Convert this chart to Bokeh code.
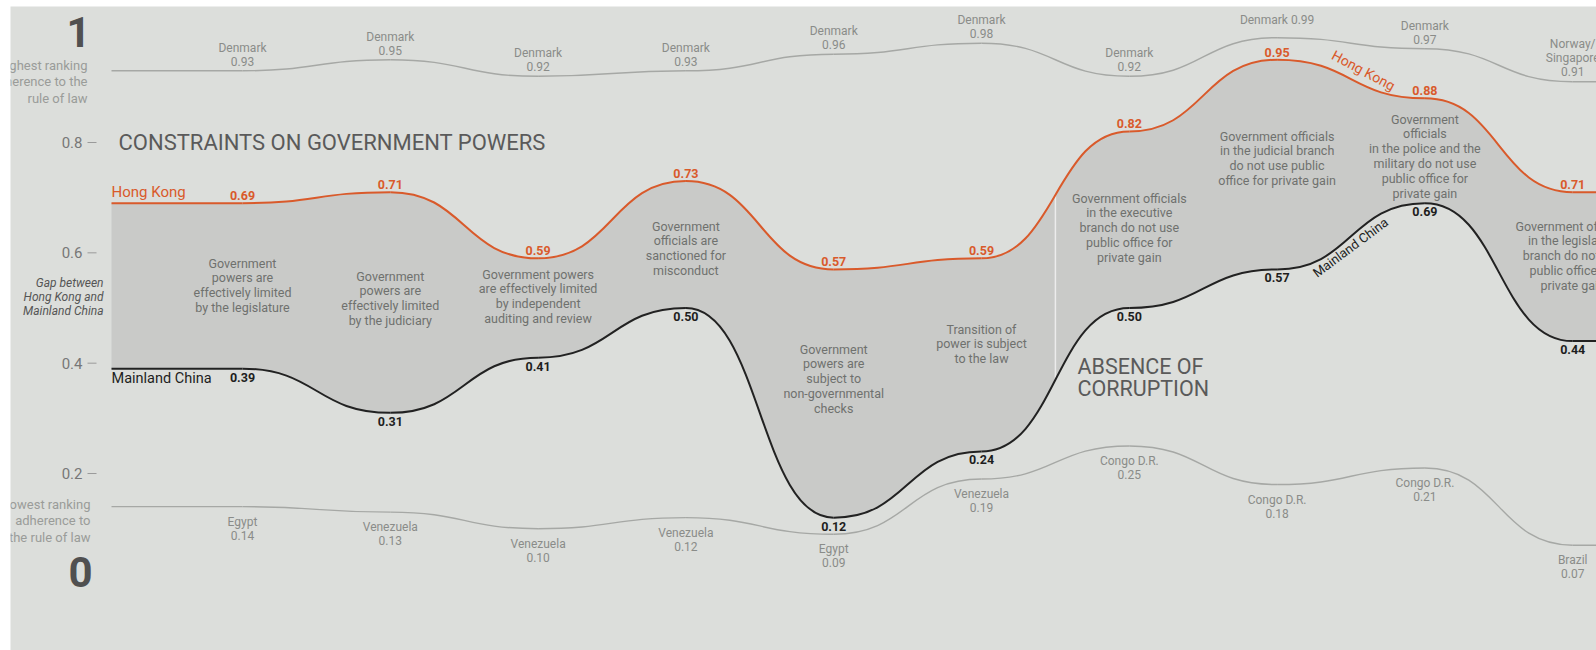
import numpy as np
from bokeh.plotting import figure
from bokeh.models import Range1d
from bokeh.core.properties import value
from bokeh.embed import file_html
from bokeh.resources import INLINE

# ---------------- data ----------------
descriptions = [
    "Government\npowers are\neffectively limited\nby the legislature",
    "Government\npowers are\neffectively limited\nby the judiciary",
    "Government powers\nare effectively limited\nby independent\nauditing and review",
    "Government\nofficials are\nsanctioned for\nmisconduct",
    "Government\npowers are\nsubject to\nnon-governmental\nchecks",
    "Transition of\npower is subject\nto the law",
    "Government officials\nin the executive\nbranch do not use\npublic office for\nprivate gain",
    "Government officials\nin the judicial branch\ndo not use public\noffice for private gain",
    "Government\nofficials\nin the police and the\nmilitary do not use\npublic office for\nprivate gain",
    "Government officials\nin the legislative\nbranch do not use\npublic office for\nprivate gain",
]
hong_kong = [0.69, 0.71, 0.59, 0.73, 0.57, 0.59, 0.82, 0.95, 0.88, 0.71]
mainland = [0.39, 0.31, 0.41, 0.50, 0.12, 0.24, 0.50, 0.57, 0.69, 0.44]
best_country = ["Denmark"] * 9 + ["Norway/\nSingapore"]
best_score = [0.93, 0.95, 0.92, 0.93, 0.96, 0.98, 0.92, 0.99, 0.97, 0.91]
worst_country = ["Egypt", "Venezuela", "Venezuela", "Venezuela", "Egypt",
                 "Venezuela", "Congo D.R.", "Congo D.R.", "Congo D.R.", "Brazil"]
worst_score = [0.14, 0.13, 0.10, 0.12, 0.09, 0.19, 0.25, 0.18, 0.21, 0.07]
section_titles = ["CONSTRAINTS ON GOVERNMENT POWERS", "ABSENCE OF\nCORRUPTION"]
section_start = [0, 6]
y_ticks = [0.2, 0.4, 0.6, 0.8]
scale_ends = [1, 0]
scale_end_notes = ["highest ranking\nadherence to the\nrule of law",
                   "lowest ranking\nadherence to\nthe rule of law"]

# ---------------- layout helpers (page pixels -> data) ----------------
def dx(px):
    return (px - 242) / 147.8

def dy(py):
    return 0.8 + (142 - py) / 551.7

BG = "#dcdedb"
FILL = "#c9cac8"
ORANGE = "#d95a2b"
DARK = "#222222"
GRAY_LINE = "#a6a8a5"
GRAY_TXT = "#8a8c89"
DESC_TXT = "#6f716e"
FONT = value("Roboto")

n = len(hong_kong)
x_start, x_end = dx(111), dx(1700)
K = 0.5


def knots(vals):
    kx = [x_start] + list(range(n)) + [x_end]
    ky = [vals[0]] + list(vals) + [vals[-1]]
    return kx, ky


def bez_data(vals):
    kx, ky = knots(vals)
    d = dict(x0=[], y0=[], x1=[], y1=[], cx0=[], cy0=[], cx1=[], cy1=[])
    for j in range(len(kx) - 1):
        w = kx[j + 1] - kx[j]
        d["x0"].append(kx[j]); d["y0"].append(ky[j])
        d["x1"].append(kx[j + 1]); d["y1"].append(ky[j + 1])
        d["cx0"].append(kx[j] + K * w); d["cy0"].append(ky[j])
        d["cx1"].append(kx[j + 1] - K * w); d["cy1"].append(ky[j + 1])
    return d


def bez_points(vals):
    d = bez_data(vals)
    t = np.linspace(0, 1, 60)
    xs, ys = [], []
    for j in range(len(d["x0"])):
        a = (1 - t) ** 3; b = 3 * t * (1 - t) ** 2; c = 3 * t ** 2 * (1 - t); e = t ** 3
        xs.append(a * d["x0"][j] + b * d["cx0"][j] + c * d["cx1"][j] + e * d["x1"][j])
        ys.append(a * d["y0"][j] + b * d["cy0"][j] + c * d["cy1"][j] + e * d["y1"][j])
    return np.concatenate(xs), np.concatenate(ys)


p = figure(width=1596, height=650,
           x_range=Range1d(dx(10), dx(1596)), y_range=Range1d(dy(650), dy(6)),
           output_backend="svg", toolbar_location=None,
           x_axis_location=None, y_axis_location=None,
           min_border_left=10, min_border_right=0, min_border_top=6, min_border_bottom=0)
p.background_fill_color = BG
p.border_fill_color = "white"
p.outline_line_color = None
p.grid.grid_line_color = None

# y scale ticks (drawn at their data values)
p.text(x=[dx(82)] * len(y_ticks), y=y_ticks, text=[f"{t:.1f}" for t in y_ticks],
       text_align="right", text_baseline="middle", text_font=FONT,
       text_font_size="15px", text_color="#777777")
p.segment(x0=[dx(87)] * len(y_ticks), y0=y_ticks, x1=[dx(96)] * len(y_ticks), y1=y_ticks,
          line_color="#9a9a9a", line_width=1)
p.text(x=[dx(90), dx(92)], y=scale_ends, text=[str(v) for v in scale_ends],
       text_align="right", text_baseline="middle", y_offset=[0, -12], text_font=FONT,
       text_font_style="bold", text_font_size="42px", text_color="#505050")
p.text(x=[dx(87), dx(90)], y=[dy(57), dy(496)], text=scale_end_notes,
       text_align="right", text_baseline="top", text_font=FONT, text_font_size="13px",
       text_color="#9a9c99", text_line_height=1.1)
p.text(x=[dx(103)], y=[dy(275)], text=["Gap between\nHong Kong and\nMainland China"],
       text_align="right", text_baseline="top", text_font=FONT, text_font_size="12px",
       text_font_style="italic", text_color="#555555", text_line_height=1.0)

# gap fill
xs, hk_y = bez_points(hong_kong)
_, mc_y = bez_points(mainland)
p.varea(x=xs, y1=hk_y, y2=mc_y, fill_color=FILL)

# section separators
for s in section_start[1:]:
    xm = s - 0.5
    p.segment(x0=[xm], y0=[(hong_kong[s - 1] + hong_kong[s]) / 2],
              x1=[xm], y1=[(mainland[s - 1] + mainland[s]) / 2],
              line_color="#ececec", line_width=1.5)

# lines
for vals, col, lw in [(best_score, GRAY_LINE, 1.4), (worst_score, GRAY_LINE, 1.4),
                      (hong_kong, ORANGE, 2.0), (mainland, DARK, 2.0)]:
    p.bezier(source=bez_data(vals), x0="x0", y0="y0", x1="x1", y1="y1",
             cx0="cx0", cy0="cy0", cx1="cx1", cy1="cy1", line_color=col, line_width=lw)

idx = list(range(n))
# value labels
p.text(x=idx, y=hong_kong, text=[f"{v:.2f}" for v in hong_kong], text_align="center",
       text_baseline="bottom", y_offset=-3, text_font=FONT, text_font_style="bold",
       text_font_size="12.5px", text_color=ORANGE)
p.text(x=idx, y=mainland, text=[f"{v:.2f}" for v in mainland], text_align="center",
       text_baseline="top", y_offset=4, text_font=FONT, text_font_style="bold",
       text_font_size="12.5px", text_color="#1e1e1e")

best_lbl = [f"{c}\n{v:.2f}" for c, v in zip(best_country, best_score)]
best_lbl[7] = f"{best_country[7]} {best_score[7]:.2f}"
best_dy = [-2] * n
best_dy[7] = -11
best_dy[9] = -3
p.text(x=idx, y=best_score, text=best_lbl, text_align="center",
       text_baseline="bottom", y_offset=best_dy, text_font=FONT,
       text_font_size="12px", text_color=GRAY_TXT, text_line_height=1.0)
p.text(x=idx, y=worst_score, text=[f"{c}\n{v:.2f}" for c, v in zip(worst_country, worst_score)],
       text_align="center", text_baseline="top", y_offset=8, text_font=FONT,
       text_font_size="12px", text_color=GRAY_TXT, text_line_height=1.0)

# descriptions
desc_top = [255, 268, 266, 218, 341, 321, 190, 128, 111, 218]
p.text(x=idx, y=[dy(t) for t in desc_top], text=descriptions, text_align="center",
       text_baseline="top", text_font=FONT, text_font_size="12.5px",
       text_color=DESC_TXT, text_line_height=0.99)

# series names
p.text(x=[x_start], y=[dy(191)], text=["Hong Kong"], text_align="left", text_baseline="middle",
       text_font=FONT, text_font_size="15px", text_color=ORANGE)
p.text(x=[x_start], y=[dy(378)], text=["Mainland China"], text_align="left", text_baseline="middle",
       text_font=FONT, text_font_size="14.5px", text_color="#1e1e1e")
p.text(x=[dx(1363)], y=[dy(70)], text=["Hong Kong"], angle=[-0.49], text_align="center",
       text_baseline="middle", text_font=FONT, text_font_size="14px", text_color=ORANGE)
p.text(x=[dx(1350)], y=[dy(247)], text=["Mainland China"], angle=[0.64], text_align="center",
       text_baseline="middle", text_font=FONT, text_font_size="13px", text_color="#1e1e1e")

# section titles
p.text(x=[dx(118)], y=[dy(142)], text=[section_titles[0]], text_align="left", text_baseline="middle",
       text_font=FONT, text_font_size="22px", text_color="#5a5a5a")
p.text(x=[dx(1077)], y=[dy(353)], text=[section_titles[1]], text_align="left", text_baseline="top",
       text_font=FONT, text_font_size="21.5px", text_color="#5a5a5a", text_line_height=0.88)

open("out.html", "w").write(file_html(p, INLINE))
